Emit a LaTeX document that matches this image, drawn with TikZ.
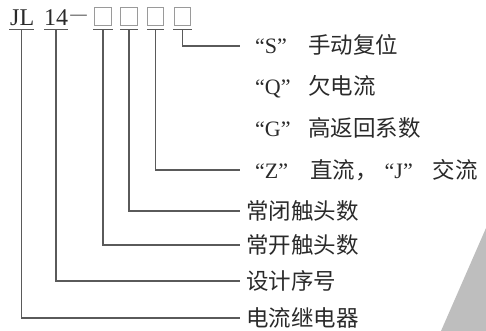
\documentclass[tikz,border=0pt]{standalone}
\usepackage{fontspec}
\setmainfont{Liberation Serif}
\newfontfamily\cjk{Noto Sans CJK SC}
\newcommand\zhtext[1]{{\cjk\fontsize{22.5}{22.5}\selectfont #1}}
\definecolor{txt}{HTML}{2A2A2A}
\definecolor{linec}{HTML}{5A5A5A}
\definecolor{boxc}{HTML}{9A9A9A}
\definecolor{tri}{HTML}{BEBEBE}
\begin{document}
\begin{tikzpicture}[x=1pt,y=-1pt,
  lbl/.style={anchor=west,inner sep=0pt,text=txt,text height=20pt,text depth=4pt,font=\fontsize{22}{22}\selectfont},
  code/.style={anchor=base west,inner sep=0pt,text=txt,font=\fontsize{24}{24}\selectfont},
  codebox/.style={draw=boxc,line width=0.9pt,minimum width=16.5pt,minimum height=18pt,inner sep=0pt},
  conn/.style={draw=linec,line width=1.1pt},
]
\useasboundingbox (0,0) rectangle (486,331);
\fill[tri] (441,331) -- (486,228) -- (486,331) -- cycle;

% code line
\node[code] (jl) at (10,26) {JL};
\node[code] (n14) at (44,26) {14};
\node[anchor=base,inner sep=0pt,text=txt,font=\fontsize{16.5}{16.5}\selectfont] (dash) at (78.5,20) {—};
\node[codebox] (b1) at (103,16) {};
\node[codebox] (b2) at (129,16) {};
\node[codebox] (b3) at (155.5,16) {};
\node[codebox] (b4) at (182.5,16) {};

% underline centres
\coordinate (u0) at (21.5,29.5);
\coordinate (u1) at (56,29.5);
\coordinate (u2) at (103,29.5);
\coordinate (u3) at (129,29.5);
\coordinate (u4) at (155.5,29.5);
\coordinate (u5) at (182.5,29.5);

% labels
\node[lbl] (lS) at (246,46) {\hspace{9pt}\makebox[53pt][l]{“S”}\zhtext{手动复位}};
\node[lbl] (lQ) at (246,87) {\hspace{9pt}\makebox[53pt][l]{“Q”}\zhtext{欠电流}};
\node[lbl] (lG) at (246,128) {\hspace{9pt}\makebox[53pt][l]{“G”}\zhtext{高返回系数}};
\node[lbl] (lZ) at (246,170) {\hspace{9pt}\makebox[55pt][l]{“Z”}\zhtext{直流，}\hspace{7pt}“J”\hspace{20pt}\zhtext{交流}};
\node[lbl] (lNC) at (246,211) {\zhtext{常闭触头数}};
\node[lbl] (lNO) at (246,245) {\zhtext{常开触头数}};
\node[lbl] (lSN) at (246,281) {\zhtext{设计序号}};
\node[lbl] (lCR) at (246,318) {\zhtext{电流继电器}};

% underlines
\draw[conn] ([xshift=-12.5pt]u0) -- ([xshift=12.5pt]u0);
\draw[conn] ([xshift=-12pt]u1) -- ([xshift=12pt]u1);
\draw[conn] ([xshift=-10pt]u2) -- ([xshift=10pt]u2);
\draw[conn] ([xshift=-9pt]u3) -- ([xshift=9pt]u3);
\draw[conn] ([xshift=-8.5pt]u4) -- ([xshift=8.5pt]u4);
\draw[conn] ([xshift=-9.5pt]u5) -- ([xshift=9.5pt]u5);

% connectors
\draw[conn] (u5) |- ([xshift=-6pt]lS.west);
\draw[conn] (u4) |- ([xshift=-6pt]lZ.west);
\draw[conn] (u3) |- ([xshift=-6pt]lNC.west);
\draw[conn] (u2) |- ([xshift=-6pt]lNO.west);
\draw[conn] (u1) |- ([xshift=-6pt]lSN.west);
\draw[conn] (u0) |- ([xshift=-6pt]lCR.west);
\end{tikzpicture}
\end{document}
